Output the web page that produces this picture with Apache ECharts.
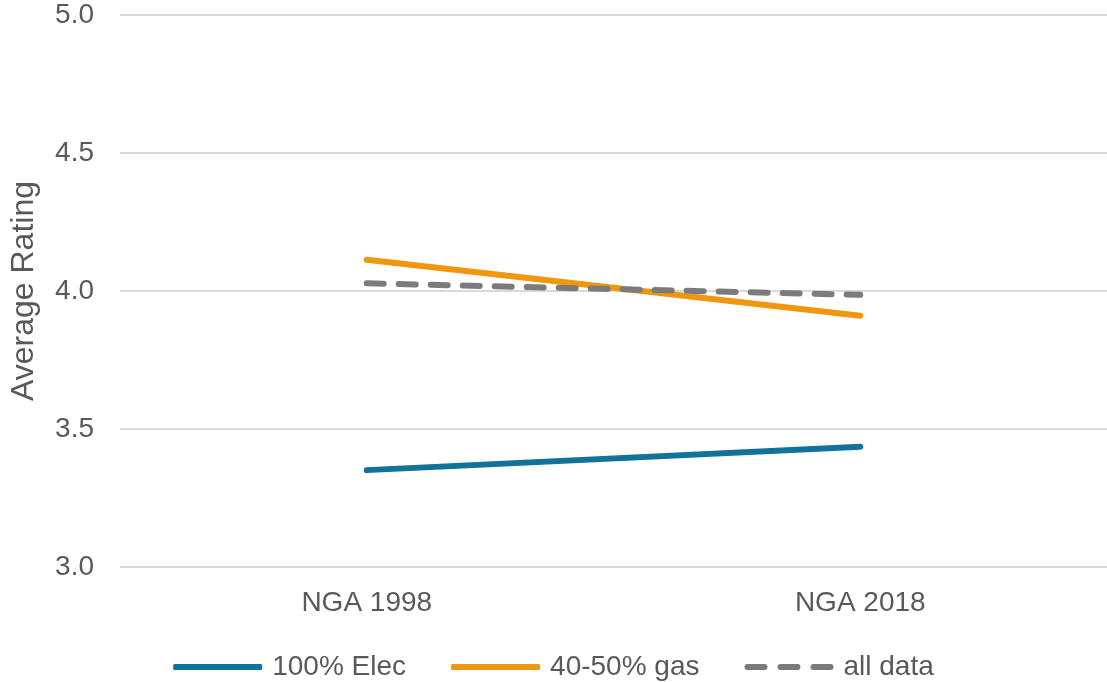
<!DOCTYPE html>
<html>
<head>
<meta charset="utf-8">
<script src="https://cdn.jsdelivr.net/npm/echarts@6/dist/echarts.min.js"></script>
<style>
html,body{margin:0;padding:0;background:#fff;}
#chart{width:1107px;height:682px;}
</style>
</head>
<body>
<div id="chart"></div>
<script>
var categories = ['NGA 1998', 'NGA 2018'];
var elec = [3.351, 3.436];
var gas = [4.113, 3.910];
var allData = [4.028, 3.986];
var yTicks = ['3.0', '3.5', '4.0', '4.5', '5.0'];

var textColor = '#595959';
var font = 'Liberation Sans, Arial, sans-serif';
var dashedIcon = 'path://M3,0h17a3,3 0 0 1 0,6h-17a3,3 0 0 1 0,-6z M36,0h17a3,3 0 0 1 0,6h-17a3,3 0 0 1 0,-6z M69,0h17a3,3 0 0 1 0,6h-17a3,3 0 0 1 0,-6z';

var chart = echarts.init(document.getElementById('chart'));
chart.setOption({
  animation: false,
  backgroundColor: '#ffffff',
  grid: { left: 114, right: 0, top: 15, bottom: 115, containLabel: false },
  xAxis: {
    type: 'category',
    data: categories,
    boundaryGap: true,
    axisLine: { show: false },
    axisTick: { show: false },
    axisLabel: { color: textColor, fontSize: 28, fontFamily: font, margin: 22 }
  },
  yAxis: {
    type: 'value',
    min: 3.0,
    max: 5.0,
    interval: 0.5,
    name: 'Average Rating',
    nameLocation: 'middle',
    nameGap: 80,
    nameTextStyle: { color: textColor, fontSize: 32, fontFamily: font },
    axisLine: { show: false },
    axisTick: { show: false },
    splitLine: { lineStyle: { color: '#D9D9D9', width: 2 } },
    axisLabel: {
      color: textColor, fontSize: 28, fontFamily: font, margin: 26,
      formatter: function (v) {
        var s = v.toFixed(1);
        return yTicks.indexOf(s) >= 0 ? s : '';
      }
    }
  },
  legend: {
    bottom: -4,
    left: 'center',
    itemWidth: 89,
    itemHeight: 6,
    itemGap: 45,
    textStyle: { color: textColor, fontSize: 28, fontFamily: font, padding: [0, 0, 0, 5] },
    data: [
      { name: '100% Elec', icon: 'roundRect' },
      { name: '40-50% gas', icon: 'roundRect' },
      { name: 'all data', icon: dashedIcon }
    ]
  },
  series: [
    {
      name: '100% Elec', type: 'line', data: elec, symbol: 'none',
      lineStyle: { color: '#13729A', width: 6, cap: 'round' },
      itemStyle: { color: '#13729A' }
    },
    {
      name: '40-50% gas', type: 'line', data: gas, symbol: 'none',
      lineStyle: { color: '#F0960F', width: 6, cap: 'round' },
      itemStyle: { color: '#F0960F' }
    },
    {
      name: 'all data', type: 'line', data: allData, symbol: 'none',
      lineStyle: { color: '#7B7B7B', width: 6, cap: 'round', type: [17, 15] },
      itemStyle: { color: '#7B7B7B' }
    }
  ]
});
</script>
</body>
</html>
